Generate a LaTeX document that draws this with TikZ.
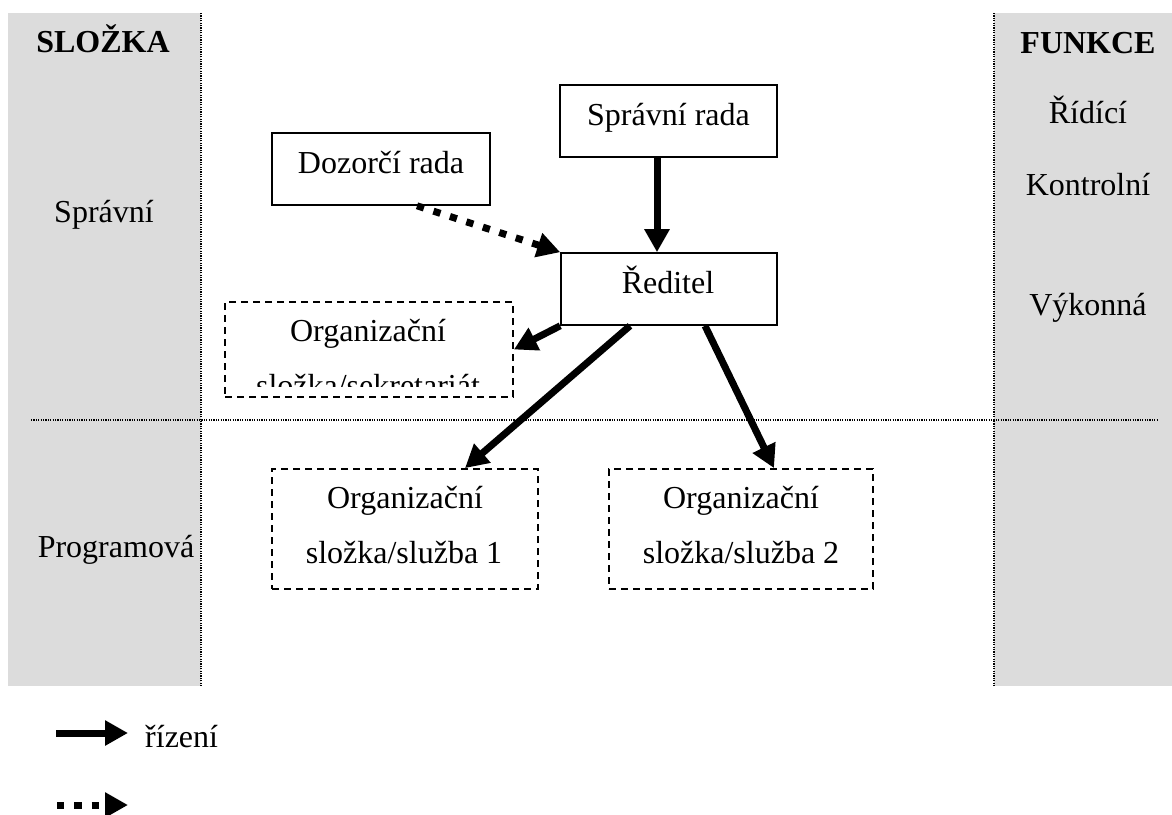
\documentclass[tikz,border=0pt]{standalone}
\usepackage{fontspec}
\setmainfont{Liberation Serif}
\usetikzlibrary{arrows.meta}
\definecolor{panelgray}{RGB}{220,220,220}
\begin{document}
\begin{tikzpicture}[x=1pt,y=-1pt,
  txt/.style={inner sep=0pt, anchor=base, font=\fontsize{32}{38}\selectfont},
  boldtxt/.style={inner sep=0pt, anchor=base, font=\fontsize{32}{38}\selectfont\bfseries},
  solidbox/.style={draw=black, line width=1.6pt, fill=white, inner sep=0pt},
  dashbox/.style={draw=black, line width=1.8pt, dash pattern=on 7pt off 5pt, fill=white, inner sep=0pt},
  sepline/.style={line width=1.2pt, dash pattern=on 1.2pt off 1.2pt},
  ctrl/.style={line width=7pt, -{Triangle[length=23pt,width=24pt]}},
  superv/.style={line width=7pt, dash pattern=on 7.3pt off 10pt, -{Triangle[length=23pt,width=24pt]}},
]
\useasboundingbox (0,0) rectangle (1172,814);

% side panels
\fill[panelgray] (8,13) rectangle (201,686);
\fill[panelgray] (994,13) rectangle (1172,686);
\draw[sepline] (201,13) -- (201,686);
\draw[sepline] (994,13) -- (994,686);
\draw[sepline] (31,420) -- (1158,420);

% panel labels
\node[boldtxt] (slozka) at (103,52) {SLOŽKA};
\node[boldtxt] (funkce) at (1088,53) {FUNKCE};
\node[txt] (spravni) at (104,222) {Správní};
\node[txt] (programova) at (116,557) {Programová};
\node[txt] (ridici) at (1088,123) {Řídící};
\node[txt] (kontrolni) at (1088,195) {Kontrolní};
\node[txt] (vykonna) at (1088,315) {Výkonná};

% boxes
\node[solidbox, minimum width=217pt, minimum height=72pt] (srada) at (668.5,121) {};
\node[solidbox, minimum width=218pt, minimum height=72pt] (dozor) at (381,169) {};
\node[solidbox, minimum width=216pt, minimum height=72pt] (reditel) at (669,289) {};
\node[dashbox, minimum width=288pt, minimum height=95pt] (sekr) at (369,349.5) {};
\node[dashbox, minimum width=266pt, minimum height=120pt] (org1) at (405,529) {};
\node[dashbox, minimum width=264pt, minimum height=120pt] (org2) at (741,529) {};

% box texts
\node[txt] (sradat) at (668.5,125) {Správní rada};
\node[txt] (dozort) at (381,173) {Dozorčí rada};
\node[txt] (reditelt) at (668,293) {Ředitel};
\node[txt] (sekra) at (368,341) {Organizační};
\begin{scope}
  \clip (226,303) rectangle (512,386);
  \node[txt] (sekrb) at (368,396) {složka/sekretariát};
\end{scope}
\node[txt] (org1a) at (405,508) {Organizační};
\node[txt] (org1b) at (404,563) {složka/služba 1};
\node[txt] (org2a) at (741,508) {Organizační};
\node[txt] (org2b) at (741,563) {složka/služba 2};

% connectors
\draw[ctrl] ([xshift=-11.5pt]srada.south) -- ([xshift=-12pt]reditel.north);
\draw[superv] ([xshift=36pt]dozor.south) -- (reditel.north west);
\draw[ctrl] (reditel.south west) -- (sekr.east);
\draw[ctrl] ([xshift=-39pt]reditel.south) -- ([xshift=60pt]org1.north);
\draw[ctrl] ([xshift=36pt]reditel.south) -- ([xshift=33pt]org2.north);

% legend
\coordinate (l1s) at (56,733);
\coordinate (l1e) at (128,733);
\coordinate (l2s) at (57,805);
\coordinate (l2e) at (128,805);
\draw[ctrl] (l1s) -- (l1e);
\draw[superv] (l2s) -- (l2e);
\node[txt, anchor=base west] (rizeni) at (145,747) {řízení};
\end{tikzpicture}
\end{document}
